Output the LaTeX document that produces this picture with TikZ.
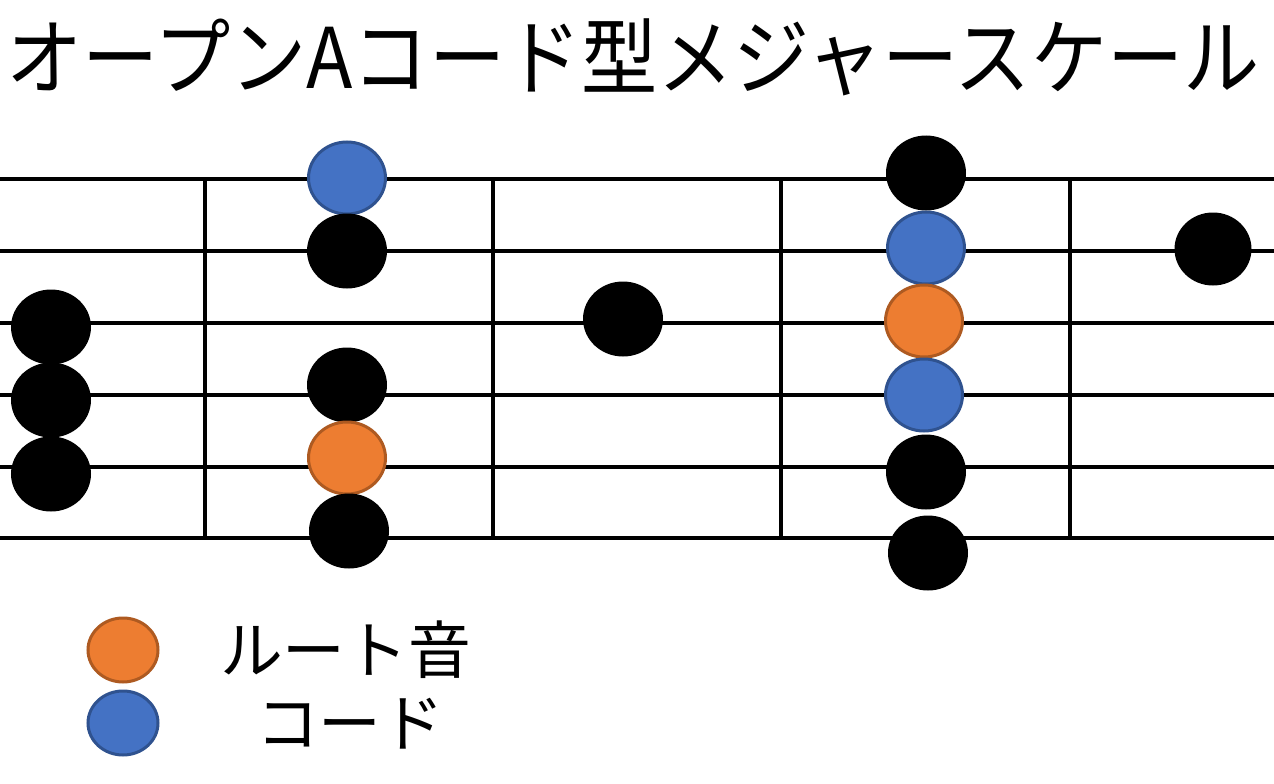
\documentclass[tikz,border=0pt]{standalone}
\usepackage{fontspec}
\newfontfamily\jpfont{Noto Sans CJK JP}
\usetikzlibrary{shapes.geometric}
\definecolor{cblue}{HTML}{4472C4}
\definecolor{cblueb}{HTML}{2F528F}
\definecolor{corange}{HTML}{ED7D31}
\definecolor{corangeb}{HTML}{AE5A21}
\begin{document}
\begin{tikzpicture}[x=1bp,y=-1bp,
  strline/.style={line width=3.2bp,black},
  dotblk/.style={ellipse,fill=black,minimum width=80bp,minimum height=75bp,inner sep=0pt},
  dotblue/.style={ellipse,fill=cblue,draw=cblueb,line width=3bp,minimum width=77bp,minimum height=72bp,inner sep=0pt},
  dotorg/.style={ellipse,fill=corange,draw=corangeb,line width=3bp,minimum width=77bp,minimum height=72bp,inner sep=0pt},
  legblue/.style={ellipse,fill=cblue,draw=cblueb,line width=3bp,minimum width=70bp,minimum height=64bp,inner sep=0pt},
  legorg/.style={ellipse,fill=corange,draw=corangeb,line width=3bp,minimum width=70bp,minimum height=64bp,inner sep=0pt},
  titletext/.style={font=\jpfont\fontsize{75}{75}\selectfont,inner sep=0pt,xscale=1.02,yscale=1.12},
  legtext/.style={font=\jpfont\fontsize{63}{63}\selectfont,inner sep=0pt,anchor=west}]
\useasboundingbox[fill=white] (0,0) rectangle (1274,784);
% strings
\foreach \y [count=\i] in {179,251,323,395,467,538} {
  \coordinate (sl\i) at (0,\y);
  \coordinate (sr\i) at (1274,\y);
  \draw[strline] (sl\i) -- (sr\i);
}
% frets
\foreach \x [count=\i] in {205,493,781,1070} {
  \coordinate (ft\i) at (\x,179);
  \coordinate (fb\i) at (\x,538);
  \draw[strline] (ft\i) -- (fb\i);
}
% column 1
\node[dotblk] (a1) at (51,327) {};
\node[dotblk] (a2) at (51,400) {};
\node[dotblk] (a3) at (51,474) {};
% column 2
\node[dotblue] (b1) at (347,178) {};
\node[dotblk] (b2) at (347,251) {};
\node[dotblk] (b3) at (347,385) {};
\node[dotorg] (b4) at (347,458) {};
\node[dotblk] (b5) at (349,531) {};
% column 3
\node[dotblk] (c1) at (623,319) {};
% column 4
\node[dotblk] (d1) at (926,173) {};
\node[dotblue] (d2) at (926,248) {};
\node[dotorg] (d3) at (924,321) {};
\node[dotblue] (d4) at (924,395) {};
\node[dotblk] (d5) at (926,472) {};
\node[dotblk] (d6) at (928,553) {};
% column 5
\node[dotblk,minimum width=77bp,minimum height=73bp] (e1) at (1213,249) {};
% title
\node[titletext] (title) at (633,57) {オープンAコード型メジャースケール};
% legend
\node[legorg] (lo) at (123,650) {};
\node[legblue] (lb) at (123,723) {};
\node[legtext] (lt1) at (220,650) {ルート音};
\node[legtext] (lt2) at (256,724) {コード};
\end{tikzpicture}
\end{document}
